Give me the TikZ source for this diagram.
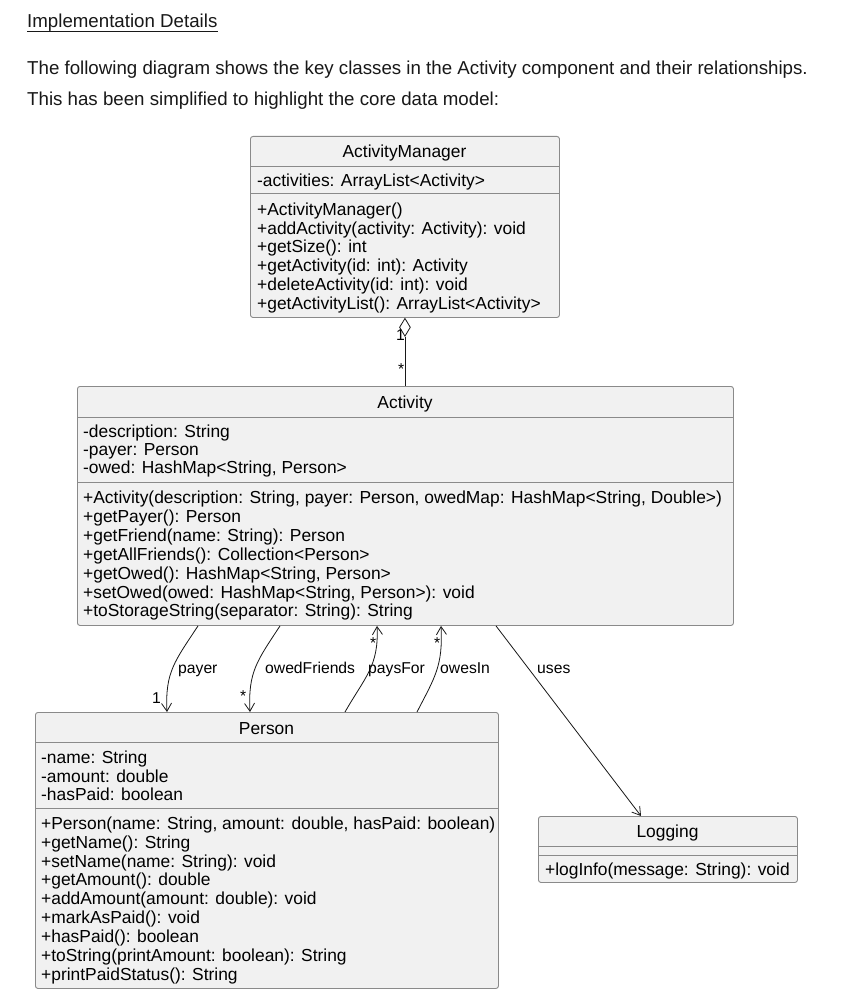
\documentclass[tikz,border=0pt]{standalone}
\usepackage{fontspec}
\setmainfont{Liberation Sans}
\usetikzlibrary{arrows.meta,shapes.geometric}
\definecolor{boxfill}{HTML}{F1F1F1}
\definecolor{boxline}{HTML}{8A8A8A}
\definecolor{ink}{HTML}{181818}
\tikzset{
  cls/.style={draw=boxline, fill=boxfill, line width=0.9pt, rounded corners=2.5pt,
    anchor=north west, inner sep=0pt},
  sepline/.style={draw=boxline, line width=0.9pt},
  member/.style={anchor=base west, inner sep=0pt, text=black,
    font=\fontsize{17.4}{20}\selectfont},
  title/.style={member, anchor=base},
  lbl/.style={anchor=base west, inner sep=0pt, text=black,
    font=\fontsize{15.7}{18}\selectfont},
  para/.style={anchor=base west, inner sep=0pt, text=ink,
    font=\fontsize{18.7}{22}\selectfont},
  assoc/.style={draw=ink, line width=0.8pt, -{Straight Barb[length=8pt,width=10pt]}},
}
\begin{document}
\begin{tikzpicture}[x=1pt,y=-1pt]
\useasboundingbox[fill=white] (0,0) rectangle (850,1008);

% introductory text
\node[para] (hd) at (27,28) {Implementation Details};
\draw[ink, line width=0.8pt] ([yshift=-3pt]hd.base west) -- ([yshift=-3pt]hd.base east);
\node[para] (p1) at (27,75) {The following diagram shows the key classes in the Activity component and their relationships.};
\node[para] (p2) at (27,106) {This has been simplified to highlight the core data model:};

% ActivityManager
\node[cls, minimum width=309pt, minimum height=181pt] (am) at (250,136) {};
\draw[sepline] (am.west |- 0,166) -- (am.east |- 0,166);
\draw[sepline] (am.west |- 0,193) -- (am.east |- 0,193);
\node[title] (amt) at (404.5,158) {ActivityManager};
\node[member] (ama1) at (257,187) {-activities: ArrayList<Activity>};
\node[member] (amm1) at (257,216) {+ActivityManager()};
\node[member] (amm2) at (257,234) {+addActivity(activity: Activity): void};
\node[member] (amm3) at (257,252.5) {+getSize(): int};
\node[member] (amm4) at (257,271) {+getActivity(id: int): Activity};
\node[member] (amm5) at (257,290) {+deleteActivity(id: int): void};
\node[member] (amm6) at (257,309) {+getActivityList(): ArrayList<Activity>};

% Activity
\node[cls, minimum width=656pt, minimum height=239pt] (act) at (77,386) {};
\draw[sepline] (act.west |- 0,417) -- (act.east |- 0,417);
\draw[sepline] (act.west |- 0,482) -- (act.east |- 0,482);
\node[title] (actt) at (405,408) {Activity};
\node[member] (acta1) at (83,437) {-description: String};
\node[member] (acta2) at (83,455) {-payer: Person};
\node[member] (acta3) at (83,473) {-owed: HashMap<String, Person>};
\node[member] (actm1) at (83,503) {+Activity(description: String, payer: Person, owedMap: HashMap<String, Double>)};
\node[member] (actm2) at (83,522) {+getPayer(): Person};
\node[member] (actm3) at (83,541) {+getFriend(name: String): Person};
\node[member] (actm4) at (83,560) {+getAllFriends(): Collection<Person>};
\node[member] (actm5) at (83,579) {+getOwed(): HashMap<String, Person>};
\node[member] (actm6) at (83,598) {+setOwed(owed: HashMap<String, Person>): void};
\node[member] (actm7) at (83,616) {+toStorageString(separator: String): String};

% Person
\node[cls, minimum width=463pt, minimum height=276pt] (per) at (35,712) {};
\draw[sepline] (per.west |- 0,742) -- (per.east |- 0,742);
\draw[sepline] (per.west |- 0,808) -- (per.east |- 0,808);
\node[title] (pert) at (266.5,734) {Person};
\node[member] (pera1) at (41,763) {-name: String};
\node[member] (pera2) at (41,782) {-amount: double};
\node[member] (pera3) at (41,800) {-hasPaid: boolean};
\node[member] (perm1) at (41,829) {+Person(name: String, amount: double, hasPaid: boolean)};
\node[member] (perm2) at (41,848) {+getName(): String};
\node[member] (perm3) at (41,867) {+setName(name: String): void};
\node[member] (perm4) at (41,885) {+getAmount(): double};
\node[member] (perm5) at (41,904) {+addAmount(amount: double): void};
\node[member] (perm6) at (41,923) {+markAsPaid(): void};
\node[member] (perm7) at (41,942) {+hasPaid(): boolean};
\node[member] (perm8) at (41,961) {+toString(printAmount: boolean): String};
\node[member] (perm9) at (41,980) {+printPaidStatus(): String};

% Logging
\node[cls, minimum width=259pt, minimum height=66pt] (log) at (538,816) {};
\draw[sepline] (log.west |- 0,846) -- (log.east |- 0,846);
\draw[sepline] (log.west |- 0,855) -- (log.east |- 0,855);
\node[title] (logt) at (667.5,837) {Logging};
\node[member] (logm1) at (545,875) {+logInfo(message: String): void};

% aggregation ActivityManager <>-- Activity
\node[draw=ink, fill=white, line width=0.8pt, shape=diamond, inner sep=0pt,
  minimum width=11pt, minimum height=18pt, anchor=north] (agg) at (am.south) {};
\draw[ink, line width=0.8pt] (agg.south) -- (act.north -| agg.south);
\node[lbl] (m1) at (396,340) {1};
\node[lbl] (m2) at (398,374) {*};

% associations Activity -> Person
\draw[assoc] ([xshift=121pt]act.south west) .. controls ([xshift=98pt,yshift=-35pt]act.south west) and ([xshift=130pt,yshift=40pt]per.north west) .. ([xshift=132pt]per.north west);
\node[lbl] (l1) at (178,673) {payer};
\node[lbl] (m3) at (152,703) {1};

\draw[assoc] ([xshift=203pt]act.south west) .. controls ([xshift=180pt,yshift=-35pt]act.south west) and ([xshift=213pt,yshift=40pt]per.north west) .. ([xshift=215pt]per.north west);
\node[lbl] (l2) at (265,673) {owedFriends};
\node[lbl] (m4) at (240,701) {*};

% associations Person -> Activity
\draw[assoc] ([xshift=310pt]per.north west) .. controls ([xshift=330pt,yshift=35pt]per.north west) and ([xshift=302pt,yshift=-40pt]act.south west) .. ([xshift=300pt]act.south west);
\node[lbl] (l3) at (368,673) {paysFor};
\node[lbl] (m5) at (370,648) {*};

\draw[assoc] ([xshift=382pt]per.north west) .. controls ([xshift=400pt,yshift=35pt]per.north west) and ([xshift=366pt,yshift=-40pt]act.south west) .. ([xshift=364pt]act.south west);
\node[lbl] (l4) at (440,673) {owesIn};
\node[lbl] (m6) at (434,648) {*};

% dependency Activity -> Logging
\draw[assoc] ([xshift=419pt]act.south west) -- ([xshift=103pt]log.north west);
\node[lbl] (l5) at (537,673) {uses};
\end{tikzpicture}
\end{document}
